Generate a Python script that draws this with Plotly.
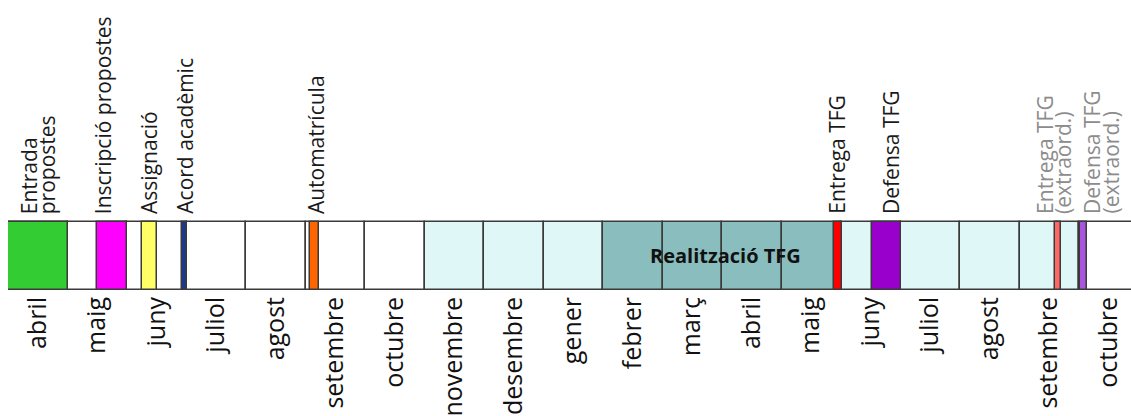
import plotly.graph_objects as go

# ---- data ----
months = ["abril", "maig", "juny", "juliol", "agost", "setembre", "octubre",
          "novembre", "desembre", "gener", "febrer", "març", "abril", "maig",
          "juny", "juliol", "agost", "setembre", "octubre"]

# background periods (in months from start of abril)
period_names = ["Període lectiu 1", "Realització TFG", "Període lectiu 2"]
period_start = [7, 10, 14]
period_end = [10, 14, 18]
period_colors = ["#E0F7F8", "#8ABEBE", "#E0F7F8"]

# events (in months from start of abril)
event_names = ["Entrada<br>propostes", "Inscripció propostes", "Assignació",
               "Acord acadèmic", "Automatrícula", "Entrega TFG", "Defensa TFG",
               "Entrega TFG<br>(extraord.)", "Defensa TFG<br>(extraord.)"]
event_start = [0.0, 1.5, 2.26, 2.93, 5.08, 13.88, 14.52, 17.59, 18.02]
event_end = [1.0, 2.0, 2.5, 3.01, 5.23, 14.02, 15.0, 17.70, 18.14]
event_label_x = [0.5, 1.6, 2.36, 2.97, 5.17, 13.92, 14.84, 17.57, 18.37]
event_colors = ["#33CC33", "#FF00FF", "#FFFF66", "#1C3A8C", "#FF6600",
                "#FF0000", "#9900CC", "#FF6666", "#AA55DD"]
event_label_colors = ["#1a1a1a"] * 7 + ["#8c8c8c", "#8c8c8c"]

LINE = "#3a3a3a"
FONT = "Open Sans"
LABEL_SIZE = 21
LINE_PITCH = 18

fig = go.Figure()

# period fills
fig.add_trace(go.Bar(
    y=[0] * len(period_start),
    x=[e - s for s, e in zip(period_start, period_end)],
    base=period_start, orientation="h", width=1,
    marker=dict(color=period_colors, line=dict(width=0)),
    hoverinfo="skip", showlegend=False))

# month grid cells
fig.add_trace(go.Bar(
    y=[0] * len(months), x=[1] * len(months),
    base=list(range(len(months))), orientation="h", width=1,
    marker=dict(color="rgba(0,0,0,0)", line=dict(color=LINE, width=1.5)),
    hoverinfo="skip", showlegend=False))

# events
fig.add_trace(go.Bar(
    y=[0] * len(event_start),
    x=[e - s for s, e in zip(event_start, event_end)],
    base=event_start, orientation="h", width=1,
    marker=dict(color=event_colors, line=dict(color=LINE, width=1.5)),
    hoverinfo="skip", showlegend=False))

annotations = []
for name, lx, col in zip(event_names, event_label_x, event_label_colors):
    lines = name.split("<br>")
    n = len(lines)
    for k, line in enumerate(lines):
        annotations.append(dict(
            x=lx, y=1, xref="x", yref="paper", text=line, textangle=-90,
            xanchor="center", yanchor="bottom", yshift=5,
            xshift=(k - (n - 1) / 2) * LINE_PITCH,
            showarrow=False, borderpad=0,
            font=dict(family=FONT, size=LABEL_SIZE, color=col)))

annotations.append(dict(
    x=(period_start[1] + period_end[1]) / 2, y=0, xref="x", yref="y",
    text="<b>" + period_names[1] + "</b>", showarrow=False, xshift=3,
    font=dict(family=FONT, size=20, color="#111111")))

fig.update_layout(
    width=1131, height=416,
    margin=dict(l=8, r=0, t=220, b=125, autoexpand=False),
    paper_bgcolor="white", plot_bgcolor="white",
    barmode="overlay", bargap=0,
    annotations=annotations,
    hovermode=False,
    xaxis=dict(range=[0, 18.874], tickmode="array",
               tickvals=[i + 0.5 for i in range(len(months))],
               ticktext=months, tickangle=-90, ticks="",
               showgrid=False, zeroline=False, showline=False,
               automargin=False,
               tickfont=dict(family=FONT, size=25, color="#111111"),
               ticklabelstandoff=0, fixedrange=True),
    yaxis=dict(range=[-0.522, 0.522], showticklabels=False, showgrid=False,
               zeroline=False, showline=False, automargin=False,
               fixedrange=True),
)

fig.write_html("out.html", config={"displayModeBar": False},
               post_script="document.body.style.margin='0';"
                           "document.body.style.overflow='hidden';")
